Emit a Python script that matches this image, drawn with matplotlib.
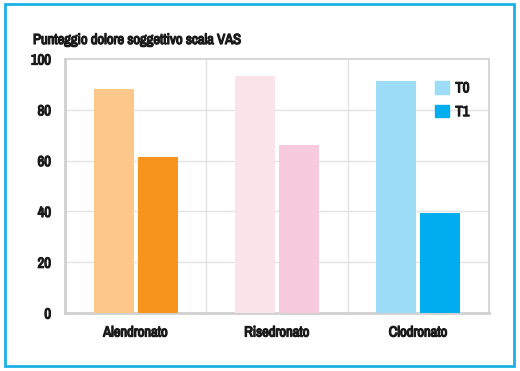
import matplotlib
matplotlib.use("Agg")
import matplotlib.pyplot as plt
from matplotlib.patches import Rectangle
from matplotlib import font_manager
import matplotlib.patheffects as pe
import numpy as np

categories = ["Alendronato", "Risedronato", "Clodronato"]
t0_values = [88, 93.5, 91.5]
t1_values = [61.5, 66, 39.5]
series_labels = ["T0", "T1"]
yticks = [0, 20, 40, 60, 80, 100]
title = "Punteggio dolore soggettivo scala VAS"

t0_colors = ["#fdc68a", "#fbe3ea", "#9ddcf6"]
t1_colors = ["#f7941d", "#f8cade", "#00aeef"]

names = sorted({f.name for f in font_manager.fontManager.ttflist})
if "Liberation Sans Narrow" in names:
    fam = "Liberation Sans Narrow"
else:
    narrow = [n for n in names if ("Condensed" in n or "Narrow" in n)]
    fam = narrow[0] if narrow else "Liberation Sans"
plt.rcParams['font.family'] = [fam, 'DejaVu Sans']

bold = [pe.withStroke(linewidth=0.9, foreground="#1a1a1a")]
txtcol = "#1a1a1a"

fig = plt.figure(figsize=(5.2, 3.71), dpi=100)
fig.patch.set_facecolor("white")
border = Rectangle((5/520, 1-366/371), 509/520, 362/371, transform=fig.transFigure,
                   fill=False, edgecolor="#1bb0e6", linewidth=2)
fig.add_artist(border)

ax = fig.add_axes([65/520, 1-313/371, (489-65)/520, (313-59)/371])
x = np.arange(len(categories))
w = 0.284
off = 0.156
ax.bar(x - off, t0_values, width=w, color=t0_colors, zorder=3)
ax.bar(x + off, t1_values, width=w, color=t1_colors, zorder=3)

ax.set_xlim(-0.5, 2.5)
ax.set_ylim(0, 100)
ax.set_yticks(yticks)
ax.set_yticklabels([str(v) for v in yticks], fontsize=10.5, fontweight="bold",
                   color=txtcol, path_effects=bold)
ax.set_xticks(x)
ax.set_xticklabels(categories, fontsize=10.5, fontweight="bold",
                   color=txtcol, path_effects=bold)
ax.tick_params(axis='y', length=0, pad=10)
ax.tick_params(axis='x', length=0, pad=9)
for v in yticks[1:-1]:
    ax.axhline(v, color="#e3e3e3", linewidth=1, zorder=1)
for v in [0.5, 1.5]:
    ax.axvline(v, color="#e3e3e3", linewidth=1, zorder=1)
for s in ax.spines.values():
    s.set_color("#d0d0d0")
    s.set_linewidth(1.2)
ax.spines['left'].set_linewidth(2)
ax.spines['bottom'].set_linewidth(2)

fig.text(33/520, 1-40/371, title, fontsize=10.5, fontweight="bold", va="center", ha="left",
         color=txtcol, path_effects=bold)

leg = ax.legend([Rectangle((0, 0), 1, 1, color=t0_colors[2]), Rectangle((0, 0), 1, 1, color=t1_colors[2])],
                series_labels, loc="upper left", bbox_to_anchor=(435/520, 1-81/371),
                bbox_transform=fig.transFigure, frameon=False, borderpad=0, borderaxespad=0,
                handlelength=0.95, handleheight=0.95, handletextpad=0.45, labelspacing=0.65,
                prop={'weight': 'bold', 'size': 10.5})
for t in leg.get_texts():
    t.set_color(txtcol)
    t.set_path_effects(bold)

fig.savefig("out.png", dpi=100, facecolor="white")
